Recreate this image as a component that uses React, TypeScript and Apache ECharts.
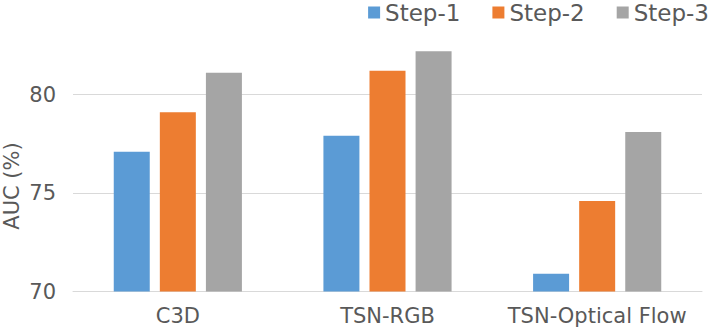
import React, { useEffect, useRef } from "react";
import * as echarts from "echarts";

const categories = ["C3D", "TSN-RGB", "TSN-Optical Flow"];
const seriesNames = ["Step-1", "Step-2", "Step-3"];
const step1 = [77.1, 77.9, 70.9];
const step2 = [79.1, 81.2, 74.6];
const step3 = [81.1, 82.2, 78.1];
const colors = ["#5B9BD5", "#ED7D31", "#A5A5A5"];
const yTicks = [70, 75, 80];

const FONT = "'DejaVu Sans', sans-serif";
const TEXT = "#595959";

export default function App() {
  const ref = useRef<HTMLDivElement>(null);
  useEffect(() => {
    if (!ref.current) return;
    const chart = echarts.init(ref.current, undefined, { renderer: "svg" });
    const values = [step1, step2, step3];
    chart.setOption({
      animation: false,
      backgroundColor: "#ffffff",
      textStyle: { fontFamily: FONT },
      legend: {
        data: seriesNames,
        right: 0,
        top: -4,
        itemWidth: 12,
        itemHeight: 12,
        itemGap: 32,
        icon: "rect",
        textStyle: { color: TEXT, fontSize: 23, fontFamily: FONT },
      },
      grid: { left: 73, right: 12, top: 15.7, bottom: 38.5, containLabel: false },
      xAxis: {
        type: "category",
        data: categories,
        axisLine: { show: true, lineStyle: { color: "#D9D9D9", width: 1 } },
        axisTick: { show: false },
        axisLabel: { color: TEXT, fontSize: 21, fontFamily: FONT, margin: 14, interval: 0 },
      },
      yAxis: {
        type: "value",
        min: 70,
        max: 84,
        interval: 5,
        axisLine: { show: false },
        axisTick: { show: false },
        splitLine: { showMaxLine: false, lineStyle: { color: "#D9D9D9", width: 1 } },
        axisLabel: {
          color: TEXT,
          fontSize: 21,
          fontFamily: FONT,
          margin: 17,
          showMaxLabel: false,
          formatter: (v: number) => (yTicks.includes(v) ? String(v) : ""),
        },
      },
      graphic: [
        {
          type: "text",
          x: 12,
          y: 186,
          rotation: Math.PI / 2,
          style: {
            text: "AUC (%)",
            fill: TEXT,
            font: `21px ${FONT}`,
            align: "center",
            verticalAlign: "middle",
          },
        },
      ],
      series: seriesNames.map((name, i) => ({
        name,
        type: "bar",
        data: values[i],
        barWidth: 36,
        barGap: "28%",
        itemStyle: { color: colors[i] },
      })),
    });
    return () => chart.dispose();
  }, []);
  return (
    <div
      ref={ref}
      style={{ position: "fixed", left: 0, top: 0, width: 714, height: 330 }}
    />
  );
}
